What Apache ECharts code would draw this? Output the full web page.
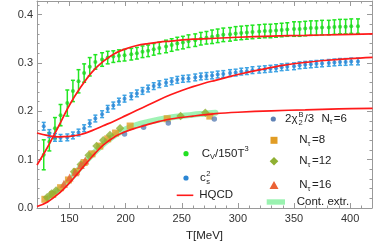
<!DOCTYPE html>
<html><head><meta charset="utf-8">
<script src="https://cdn.jsdelivr.net/npm/echarts@6/dist/echarts.min.js"></script>
<style>html,body{margin:0;padding:0;background:#fff}#c{width:374px;height:244px}</style>
</head><body><div id="c"></div>
<script>
// ---- data ----
const T = [127,132,137,142,148,153,158,163,168,173,179,184,189,194,199,205,210,215,220,225,230,236,241,246,251,256,262,267,272,277,282,287,293,298,303,308,313,319,324,329,334,339,344,350,355,360,365,370,375,381,386,391,396,401,407];
const cvVals = [0.110,0.137,0.165,0.192,0.217,0.242,0.262,0.279,0.292,0.302,0.307,0.311,0.313,0.315,0.316,0.318,0.320,0.323,0.325,0.328,0.331,0.334,0.337,0.340,0.342,0.345,0.347,0.350,0.352,0.354,0.356,0.358,0.359,0.361,0.362,0.363,0.364,0.365,0.366,0.366,0.367,0.368,0.369,0.370,0.370,0.371,0.372,0.372,0.373,0.373,0.374,0.375,0.375,0.376,0.376];
const cvErr = [0.031,0.019,0.022,0.022,0.027,0.022,0.024,0.019,0.019,0.015,0.014,0.013,0.012,0.012,0.012,0.012,0.012,0.012,0.012,0.012,0.012,0.013,0.013,0.013,0.013,0.013,0.013,0.013,0.013,0.014,0.014,0.014,0.014,0.014,0.014,0.014,0.014,0.014,0.014,0.014,0.014,0.014,0.014,0.015,0.015,0.015,0.015,0.015,0.015,0.015,0.015,0.015,0.015,0.015,0.015];
const cs2Vals = [0.169,0.154,0.146,0.145,0.146,0.150,0.156,0.165,0.175,0.185,0.194,0.205,0.212,0.220,0.226,0.231,0.237,0.242,0.247,0.252,0.256,0.259,0.262,0.265,0.267,0.268,0.270,0.272,0.273,0.274,0.276,0.277,0.279,0.280,0.282,0.283,0.285,0.286,0.287,0.288,0.289,0.291,0.292,0.293,0.295,0.296,0.297,0.298,0.299,0.300,0.301,0.302,0.302,0.303,0.303];
const cs2Err = [0.008,0.008,0.008,0.007,0.007,0.007,0.007,0.007,0.007,0.007,0.007,0.007,0.007,0.007,0.007,0.007,0.007,0.007,0.007,0.007,0.007,0.007,0.007,0.007,0.007,0.007,0.007,0.007,0.007,0.007,0.007,0.007,0.007,0.007,0.007,0.007,0.007,0.007,0.007,0.007,0.007,0.007,0.007,0.007,0.007,0.007,0.007,0.007,0.007,0.007,0.007,0.007,0.007,0.007,0.007];

const hqcdCvT = [121,130,140,150,160,170,180,190,200,210,220,230,240,260,280,300,330,360,390,420];
const hqcdCv  = [0.089,0.124,0.168,0.213,0.250,0.281,0.303,0.319,0.329,0.336,0.340,0.343,0.345,0.349,0.351,0.353,0.3555,0.357,0.3585,0.360];
const hqcdCsT = [121,130,140,150,160,170,180,190,200,210,220,230,240,250,260,270,280,290,300,320,340,360,380,400,420];
const hqcdCs  = [0.155,0.150,0.147,0.148,0.152,0.160,0.170,0.180,0.191,0.202,0.213,0.224,0.234,0.243,0.251,0.258,0.264,0.270,0.276,0.286,0.295,0.301,0.3055,0.309,0.3115];
const hqcdChiT = [121,130,140,150,160,170,180,190,200,210,220,230,240,260,280,300,330,360,390,420];
const hqcdChi  = [0.003,0.012,0.029,0.052,0.079,0.106,0.130,0.147,0.158,0.166,0.173,0.179,0.184,0.190,0.195,0.198,0.201,0.203,0.205,0.206];

const nt6T = [199,216,238,279];
const nt6V = [0.153,0.167,0.176,0.184];
const nt8T = [128,135,142,149,156,163,170,177,184,191,204,237,275];
const nt8V = [0.018,0.028,0.042,0.058,0.075,0.094,0.112,0.128,0.143,0.155,0.1695,0.1845,0.190];
const nt12T = [130,134,138,154,160,167,174,180,186,195,249,271];
const nt12V = [0.022,0.030,0.036,0.075,0.090,0.109,0.128,0.140,0.151,0.165,0.190,0.197];
const nt16T = [145,150,155,160,164];
const nt16V = [0.050,0.063,0.074,0.089,0.098];
const contT = [130,140,150,160,170,180,190,200,210,220,230,240,250,260,270,280];
const contV = [0.018,0.036,0.058,0.085,0.110,0.132,0.150,0.163,0.172,0.178,0.183,0.187,0.190,0.193,0.195,0.197];

const xMajor = [150,200,250,300,350,400];
const xMinor = [130,140,160,170,180,190,210,220,230,240,260,270,280,290,310,320,330,340,360,370,380,390,410];
const yMajor = [0,0.1,0.2,0.3,0.4];
const yMinor = [0.02,0.04,0.06,0.08,0.12,0.14,0.16,0.18,0.22,0.24,0.26,0.28,0.32,0.34,0.36,0.38,0.42];

// ---- chart ----
const FONT = 'Liberation Sans, Arial, sans-serif';
const FRAME = '#9a9a9a';
const zip = (a,b) => a.map((v,i)=>[v,b[i]]);

function errSeries(xs, ys, es, color, capW, lw) {
  return {
    type:'custom', xAxisIndex:0, yAxisIndex:0, silent:true, z:2,
    encode:{x:0, y:[1,2]},
    data: xs.map((x,i)=>[x, ys[i]-es[i], ys[i]+es[i]]),
    renderItem:(params, api)=>{
      const x = api.value(0);
      const lo = api.coord([x, api.value(1)]);
      const hi = api.coord([x, api.value(2)]);
      const w = capW/2;
      const st = {stroke:color, lineWidth:lw};
      return {type:'group', children:[
        {type:'line', shape:{x1:lo[0],y1:lo[1],x2:hi[0],y2:hi[1]}, style:st},
        {type:'line', shape:{x1:lo[0]-w,y1:lo[1],x2:lo[0]+w,y2:lo[1]}, style:st},
        {type:'line', shape:{x1:hi[0]-w,y1:hi[1],x2:hi[0]+w,y2:hi[1]}, style:st}
      ]};
    }
  };
}

function xAx(pos, values, len, showLine, showLabel) {
  return {type:'value', position:pos, min:121, max:419.5,
    axisLine:{show:showLine, onZero:false, lineStyle:{color:FRAME, width:1}},
    axisTick:{show:true, inside:true, length:len, customValues:values, lineStyle:{color:FRAME}},
    axisLabel:{show:showLabel, customValues:values, margin:5, color:'#333', fontSize:11, fontFamily:FONT},
    splitLine:{show:false}};
}
function yAx(pos, values, len, showLine, showLabel) {
  return {type:'value', position:pos, min:0, max:0.428,
    axisLine:{show:showLine, onZero:false, lineStyle:{color:FRAME, width:1}},
    axisTick:{show:true, inside:true, length:len, customValues:values, lineStyle:{color:FRAME}},
    axisLabel:{show:showLabel, customValues:values, margin:4, color:'#333', fontSize:11, fontFamily:FONT,
      formatter:v=>Number(v).toFixed(1)},
    splitLine:{show:false}};
}

function txt(x, y, s, size, extra) {
  return Object.assign({type:'text', x:x, y:y, silent:true,
    style:{text:s, fill:'#222', font:size+'px '+FONT, textAlign:'left', textVerticalAlign:'middle'}}, extra||{});
}

const LS = 11.5, SS = 7.5;
const graphics = [
  {type:'text', x:204.5, y:236, silent:true, style:{text:'T[MeV]', fill:'#222', font:'11.5px '+FONT, textAlign:'center', textVerticalAlign:'middle'}},
  {type:'circle', shape:{cx:186,cy:153.7,r:2.6}, style:{fill:'#22e022'}},
  txt(201.7,153.7,'C',LS), txt(210,157.2,'V',SS), txt(215,153.7,'/150T',LS), txt(244.6,149.3,'3',SS),
  {type:'circle', shape:{cx:186,cy:178,r:2.6}, style:{fill:'#2b86d4'}},
  txt(200,178,'c',LS), txt(206.3,173.8,'2',SS), txt(206.3,182.3,'s',SS),
  {type:'line', shape:{x1:176.7,y1:195.3,x2:193.3,y2:195.3}, style:{stroke:'#ff1a1a', lineWidth:1.6}},
  txt(199.3,195.3,'HQCD',LS),
  {type:'circle', shape:{cx:273.3,cy:119,r:2.6}, style:{fill:'#5E81B5'}},
  txt(285,119,'2\u03c7',LS), txt(298.5,114.8,'B',SS), txt(298.5,122.6,'2',SS), txt(304.5,119,'/3',LS),
  txt(321.5,119,'N',LS), txt(329.6,122.3,'\u03c4',SS), txt(333.8,119,'=6',LS),
  {type:'rect', shape:{x:270.5,y:136.8,width:7,height:7}, style:{fill:'#E19C24'}},
  txt(299.3,140.3,'N',LS), txt(307.6,143.6,'\u03c4',SS), txt(312,140.3,'=8',LS),
  {type:'polygon', shape:{points:[[274,157],[278.3,161.3],[274,165.6],[269.7,161.3]]}, style:{fill:'#8FB032'}},
  txt(299.3,161.3,'N',LS), txt(307.6,164.6,'\u03c4',SS), txt(312,161.3,'=12',LS),
  {type:'polygon', shape:{points:[[274,181],[278.5,189],[269.5,189]]}, style:{fill:'#EB6235'}},
  txt(299.3,185.3,'N',LS), txt(307.6,188.6,'\u03c4',SS), txt(312,185.3,'=16',LS),
  {type:'rect', shape:{x:266.7,y:199.3,width:18.3,height:5.4}, style:{fill:'rgba(120,238,150,0.75)'}},
  txt(296.7,202,'Cont. extr.',LS)
];

const redLine = (xs, ys) => ({type:'line', data:zip(xs,ys), smooth:0.35, showSymbol:false, silent:true, z:5,
  lineStyle:{width:1.7, color:'#ff1a1a'}});

const chart = echarts.init(document.getElementById('c'), null, {renderer:'canvas'});
chart.setOption({
  animation:false,
  backgroundColor:'#fff',
  grid:{left:37, right:2, top:1, bottom:36, containLabel:false},
  xAxis:[
    xAx('bottom', xMajor, 5, true, true),
    xAx('bottom', xMinor, 2.5, false, false),
    xAx('top', xMajor, 5, true, false),
    xAx('top', xMinor, 2.5, false, false)
  ],
  yAxis:[
    yAx('left', yMajor, 5, true, true),
    yAx('left', yMinor, 2.5, false, false),
    yAx('right', yMajor, 5, true, false),
    yAx('right', yMinor, 2.5, false, false)
  ],
  series:[
    {type:'line', name:'Cont. extr.', data:zip(contT,contV), smooth:0.35, showSymbol:false, silent:true, z:1,
      lineStyle:{width:6, color:'rgba(120,238,150,0.7)', cap:'round'}},
    errSeries(T, cvVals, cvErr, '#22e622', 4, 1.5),
    errSeries(T, cs2Vals, cs2Err, '#3ea3e4', 4, 1.5),
    {type:'scatter', data:zip(T,cvVals), symbol:'circle', symbolSize:4, itemStyle:{color:'#1fd61f'}, z:3, silent:true},
    {type:'scatter', data:zip(T,cs2Vals), symbol:'circle', symbolSize:4, itemStyle:{color:'#2b86d4'}, z:3, silent:true},
    {type:'scatter', data:zip(nt8T,nt8V), symbol:'rect', symbolSize:7, itemStyle:{color:'#E19C24'}, z:4, silent:true},
    {type:'scatter', data:zip(nt12T,nt12V), symbol:'diamond', symbolSize:8.5, itemStyle:{color:'#8FB032'}, z:4, silent:true},
    {type:'scatter', data:zip(nt16T,nt16V), symbol:'triangle', symbolSize:8, itemStyle:{color:'#EB6235'}, z:4, silent:true},
    {type:'scatter', data:zip(nt6T,nt6V), symbol:'circle', symbolSize:5.5, itemStyle:{color:'#5E81B5'}, z:4, silent:true},
    redLine(hqcdCvT, hqcdCv),
    redLine(hqcdCsT, hqcdCs),
    redLine(hqcdChiT, hqcdChi)
  ],
  graphic: graphics
});
</script></body></html>
